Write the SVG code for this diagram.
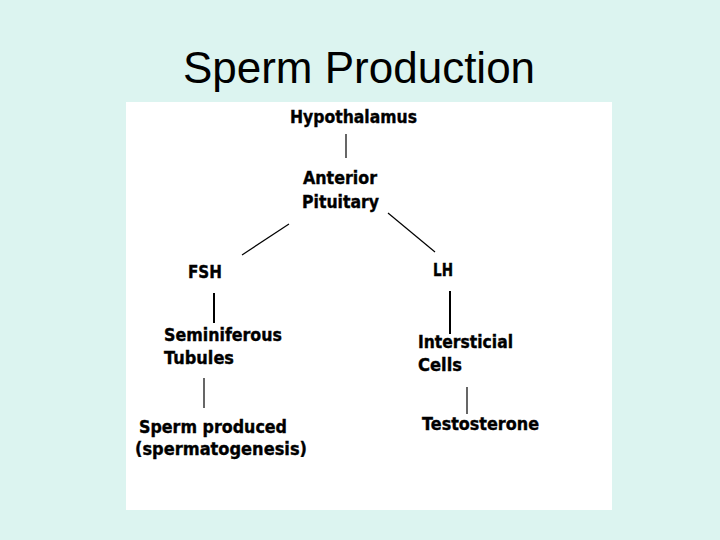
<svg xmlns="http://www.w3.org/2000/svg" width="720" height="540" viewBox="0 0 720 540">
<style>
.title{font-family:"Liberation Sans",Arial,sans-serif;font-size:44px;fill:#000}
.lbl{font-family:"DejaVu Sans",Verdana,sans-serif;font-weight:bold;font-size:18px;fill:#000;stroke:#000;stroke-width:0.4}
.c{stroke:#000;stroke-width:1.2;fill:none}
.ct{stroke:#000;stroke-width:2;fill:none}
</style>
<rect x="0" y="0" width="720" height="540" fill="#dcf4f0"/>
<text class="title" x="359" y="83" text-anchor="middle">Sperm Production</text>
<rect x="126" y="102" width="486" height="408" fill="#ffffff"/>
<g id="connectors">
<line class="c" x1="346" y1="134" x2="346" y2="158"/>
<line class="c" x1="289" y1="224" x2="242" y2="255"/>
<line class="c" x1="388" y1="213" x2="435" y2="252"/>
<line class="ct" x1="214" y1="293" x2="214" y2="323"/>
<line class="ct" x1="450" y1="291" x2="450" y2="334"/>
<line class="c" x1="204" y1="378" x2="204" y2="408"/>
<line class="c" x1="467" y1="387" x2="467" y2="414"/>
</g>
<g id="hypothalamus"><text class="lbl" x="290" y="123" textLength="127" lengthAdjust="spacingAndGlyphs">Hypothalamus</text></g>
<g id="anterior-pituitary"><text class="lbl" x="303" y="184" textLength="74" lengthAdjust="spacingAndGlyphs">Anterior</text><text class="lbl" x="302" y="208" textLength="77" lengthAdjust="spacingAndGlyphs">Pituitary</text></g>
<g id="fsh"><text class="lbl" x="188" y="278" textLength="34" lengthAdjust="spacingAndGlyphs">FSH</text></g>
<g id="lh"><text class="lbl" x="433" y="276" textLength="20" lengthAdjust="spacingAndGlyphs">LH</text></g>
<g id="seminiferous-tubules"><text class="lbl" x="164" y="341" textLength="118" lengthAdjust="spacingAndGlyphs">Seminiferous</text><text class="lbl" x="164" y="364" textLength="70" lengthAdjust="spacingAndGlyphs">Tubules</text></g>
<g id="interstitial-cells"><text class="lbl" x="418" y="348" textLength="95" lengthAdjust="spacingAndGlyphs">Intersticial</text><text class="lbl" x="418" y="371" textLength="44" lengthAdjust="spacingAndGlyphs">Cells</text></g>
<g id="sperm-produced"><text class="lbl" x="139" y="433" textLength="148" lengthAdjust="spacingAndGlyphs">Sperm produced</text><text class="lbl" x="135" y="455" textLength="172" lengthAdjust="spacingAndGlyphs">(spermatogenesis)</text></g>
<g id="testosterone"><text class="lbl" x="422" y="430" textLength="117" lengthAdjust="spacingAndGlyphs">Testosterone</text></g>
</svg>
